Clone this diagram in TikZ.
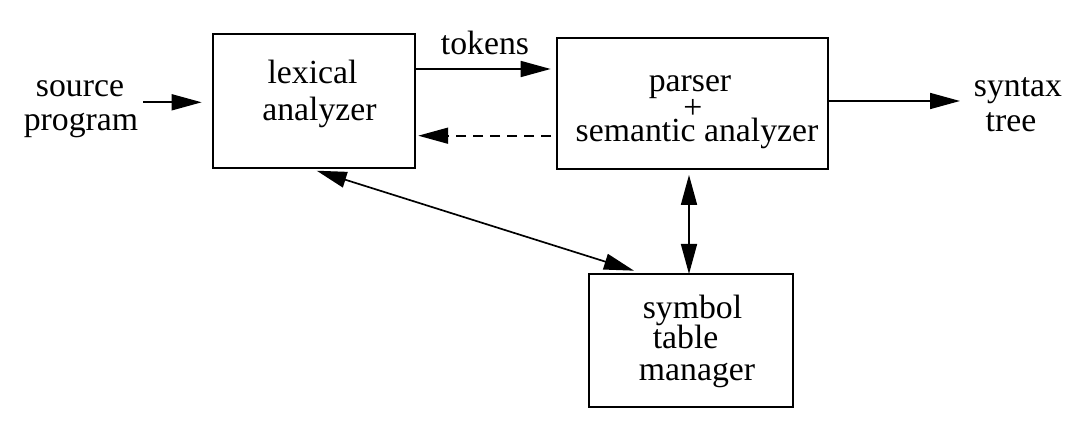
\documentclass[tikz,border=0pt]{standalone}
\usepackage{fontspec}
\setmainfont{Liberation Serif}
\usetikzlibrary{arrows.meta,calc}
\begin{document}
\begin{tikzpicture}[x=0.025cm,y=-0.025cm,
  box/.style={draw,line width=1.2pt,inner sep=0pt,outer sep=0pt},
  lbl/.style={anchor=base,inner sep=0pt,font=\fontsize{24}{24}\selectfont},
  arr/.style={line width=1.2pt,-{Triangle[length=0.75cm,width=0.4cm]}},
  darr/.style={line width=1.2pt,{Triangle[length=0.75cm,width=0.4cm]}-{Triangle[length=0.75cm,width=0.4cm]}},
  dsh/.style={dash pattern=on 0.25cm off 0.175cm}]
\useasboundingbox (0,0) rectangle (1080,445);
\fill[white] (0,0) rectangle (1080,445);
% boxes
\node[box,minimum width=5.0575cm,minimum height=3.335cm] (lex) at (313.85,101) {};
\node[box,minimum width=6.79cm,minimum height=3.275cm] (par) at (692.5,103.8) {};
\node[box,minimum width=5.0925cm,minimum height=3.325cm] (sym) at (690.85,340.5) {};
% texts
\node[lbl] (src1) at (80,97) {source};
\node[lbl] (src2) at (81,130.7) {program};
\node[lbl] (lex1) at (312.5,83.3) {lexical};
\node[lbl] (lex2) at (319.5,121) {analyzer};
\node[lbl] (tok) at (485,55) {tokens};
\node[lbl] (par1) at (690,91.7) {parser};
\node[lbl] (par2) at (693,119) {+};
\node[lbl] (par3) at (697,141.7) {semantic analyzer};
\node[lbl] (syn1) at (1018,96.7) {syntax};
\node[lbl] (syn2) at (1011,131.7) {tree};
\node[lbl] (sym1) at (692.5,318.3) {symbol};
\node[lbl] (sym2) at (685.6,349) {table};
\node[lbl] (sym3) at (697,380) {manager};
% connector end points
\coordinate (srcout) at (143,102.3);
\coordinate (srcin) at (srcout -| lex.west);
\coordinate (tokA) at ($(lex.east)+(0,-32)$);
\coordinate (tokB) at (tokA -| par.west);
\coordinate (dshA) at ($(par.west)+(0,31.9)$);
\coordinate (dshB) at (dshA -| lex.east);
\coordinate (synin) at (960,101);
\coordinate (synout) at (synin -| par.east);
\coordinate (vx) at (689,0);
\coordinate (vA) at (vx |- par.south);
\coordinate (vB) at (vx |- sym.north);
\coordinate (dgA) at ($(lex.south)+(2.85,3)$);
\coordinate (dgB) at ($(sym.north)+(-56.85,-3.3)$);
% connectors
\draw[arr,shorten >=0.275cm] (srcout) -- (srcin);
\draw[arr,shorten >=0.15cm] (tokA) -- (tokB);
\draw[arr,dsh,shorten <=0.14cm,shorten >=0.08cm] (dshA) -- (dshB);
\draw[arr] (synout) -- (synin);
\draw[darr,shorten <=0.14cm] (vA) -- (vB);
\draw[darr] (dgA) -- (dgB);
\end{tikzpicture}
\end{document}
